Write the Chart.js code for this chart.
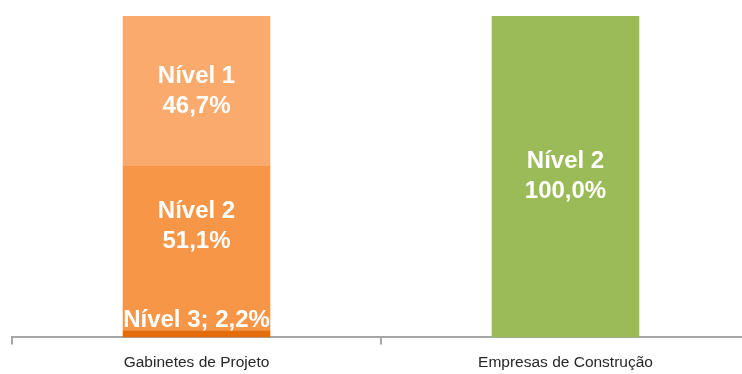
<!DOCTYPE html>
<html>
<head>
<meta charset="utf-8">
<script src="https://cdn.jsdelivr.net/npm/chart.js@4/dist/chart.umd.min.js"></script>
<style>
  html, body { margin: 0; padding: 0; background: #fff; overflow: hidden; }
  #wrap { width: 752px; height: 374px; }
</style>
</head>
<body>
<div id="wrap"><canvas id="nivelChart" width="752" height="374"></canvas></div>
<script>
// Categorias do eixo X
const categorias = ['Gabinetes de Projeto', 'Empresas de Construção'];

// Percentagens por nível (%)
const nivel3 = [2.2, 0];
const nivel2 = [51.1, 100.0];
const nivel1 = [46.7, 0];

// Cores por barra (laranja para gabinetes, verde para empresas)
const corNivel3 = ['#e46c0a', '#e46c0a'];
const corNivel2 = ['#f79646', '#9bbb59'];
const corNivel1 = ['#f9aa6c', '#f9aa6c'];

const fmt = v => v.toFixed(1).replace('.', ',') + '%';

// Rótulos dentro das barras
const rotulosPlugin = {
    id: 'rotulos',
    afterDatasetsDraw(chart, args, opts) {
        const ctx = chart.ctx;
        ctx.save();
        ctx.fillStyle = '#ffffff';
        ctx.font = 'bold 24px "Liberation Sans", Arial, sans-serif';
        ctx.textAlign = 'center';
        chart.data.datasets.forEach((ds, di) => {
            const meta = chart.getDatasetMeta(di);
            meta.data.forEach((bar, i) => {
                const v = ds.data[i];
                if (!v) return;
                const nome = ds.label;
                if (v < 5) {
                    // segmento pequeno: rótulo numa linha por cima
                    ctx.textBaseline = 'alphabetic';
                    ctx.fillText(nome + '; ' + fmt(v), bar.x, bar.y - 3);
                    return;
                }
                const ajuste = (opts.ajustes[di] && opts.ajustes[di][i]) || 0;
                const cy = (bar.y + bar.base) / 2 + ajuste;
                ctx.textBaseline = 'middle';
                ctx.fillText(nome, bar.x, cy - 15);
                ctx.fillText(fmt(v), bar.x, cy + 15);
            });
        });
        ctx.restore();
    }
};

new Chart(document.getElementById('nivelChart'), {
    type: 'bar',
    data: {
        labels: categorias,
        datasets: [
            { label: 'Nível 3', data: nivel3, backgroundColor: corNivel3 },
            { label: 'Nível 2', data: nivel2, backgroundColor: corNivel2 },
            { label: 'Nível 1', data: nivel1, backgroundColor: corNivel1 }
        ]
    },
    options: {
        responsive: false,
        animation: false,
        categoryPercentage: 1,
        barPercentage: 0.4,
        layout: { padding: { top: 16, left: 12, right: 2, bottom: -7 } },
        plugins: {
            legend: { display: false },
            tooltip: { enabled: false },
            rotulos: { ajustes: { 1: { 0: -22 } } }
        },
        scales: {
            x: {
                stacked: true,
                border: { display: true, color: '#a6a6a6', width: 2 },
                grid: {
                    display: true,
                    drawOnChartArea: false,
                    color: '#a6a6a6',
                    lineWidth: 2,
                    tickLength: 7
                },
                ticks: {
                    color: '#262626',
                    padding: 9,
                    font: { family: '"Liberation Sans", Arial, sans-serif', size: 15.5 }
                }
            },
            y: {
                stacked: true,
                display: false,
                min: 0,
                max: 100
            }
        }
    },
    plugins: [rotulosPlugin]
});
</script>
</body>
</html>
